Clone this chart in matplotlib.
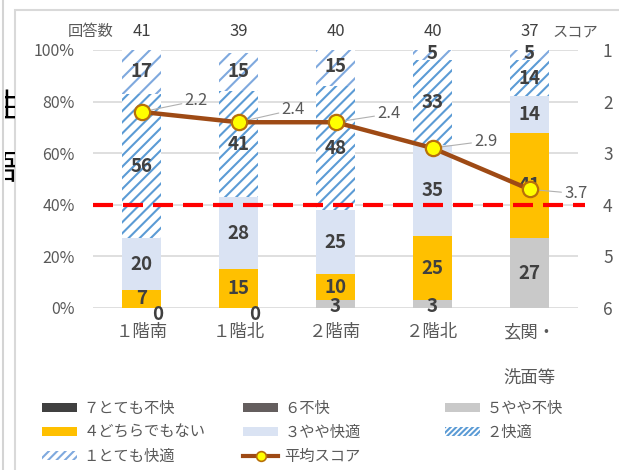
import matplotlib
matplotlib.use("Agg")
import matplotlib.pyplot as plt
import numpy as np
from matplotlib.patches import Patch, Rectangle
from matplotlib.lines import Line2D
from matplotlib.transforms import Bbox

plt.rcParams["font.family"] = ["Noto Sans CJK JP", "DejaVu Sans"]
plt.rcParams["hatch.linewidth"] = 1.5

# --- data (percent of answers per comfort level) ---
categories = ["１階南", "１階北", "２階南", "２階北", "玄関・\n洗面等"]
n_answers = [41, 39, 40, 40, 37]
very_uncomfortable = [0, 0, 0, 0, 0]      # 7
uncomfortable = [0, 0, 0, 0, 0]           # 6
slightly_uncomfortable = [0, 0, 3, 3, 27]  # 5
neutral = [7, 15, 10, 25, 41]             # 4
slightly_comfortable = [20, 28, 25, 35, 14]  # 3
comfortable = [56, 41, 48, 33, 14]        # 2
very_comfortable = [17, 15, 15, 5, 5]     # 1
avg_score = [2.2, 2.4, 2.4, 2.9, 3.7]
score_ticks = [1, 2, 3, 4, 5, 6]
pct_ticks = [0, 20, 40, 60, 80, 100]
threshold_pct = 40

W, H = 619, 470
TICK_GREY = "#595959"
LABEL_DARK = "#404040"
LINE_BROWN = "#9e4a15"
MARKER_EDGE = "#b8700a"

fig = plt.figure(figsize=(W / 100, H / 100), dpi=100)
ax = fig.add_axes([93 / W, 162 / H, 485 / W, 258 / H])

x = np.arange(len(categories))
width = 0.4

# (values, legend label, face colour, hatch, hatch colour)
segments = [
    (very_uncomfortable, "７とても不快", "#404040", None, None),
    (uncomfortable, "６不快", "#645e5e", None, None),
    (slightly_uncomfortable, "５やや不快", "#c9c9c9", None, None),
    (neutral, "４どちらでもない", "#ffc000", None, None),
    (slightly_comfortable, "３やや快適", "#dae3f3", None, None),
    (comfortable, "２快適", "white", "///", "#5b9bd5"),
    (very_comfortable, "１とても快適", "white", "//", "#7fa9de"),
]

handles = {}
bottom = np.zeros(len(categories))
for vals, label, color, hatch, hcolor in segments:
    vals = np.asarray(vals, dtype=float)
    if hatch:
        ax.bar(x, vals, width, bottom=bottom, facecolor="white",
               edgecolor=hcolor, hatch=hatch, linewidth=0, zorder=2)
        handles[label] = Patch(facecolor="white", edgecolor=hcolor,
                               hatch=hatch * 2, linewidth=0)
    else:
        ax.bar(x, vals, width, bottom=bottom, color=color, linewidth=0,
               zorder=2)
        handles[label] = Patch(facecolor=color, linewidth=0)
    bottom += vals

# --- data labels inside the segments ---
lbl_kw = dict(ha="center", va="center", fontsize=13.5, fontweight="bold",
              color=LABEL_DARK, zorder=5, clip_on=False)
base = np.zeros(len(categories))
for vals in [slightly_uncomfortable, neutral, slightly_comfortable,
             comfortable, very_comfortable]:
    for i, v in enumerate(vals):
        if v == 0:
            ax.text(x[i] + 0.17, -2.5, f"{v}", **lbl_kw)
        elif v < 5 and base[i] == 0:
            # thin bottom segment: label sits on the baseline
            ax.text(x[i], 0.5, f"{v}", **lbl_kw)
        else:
            ax.text(x[i], base[i] + v / 2, f"{v}", **lbl_kw)
    base += np.asarray(vals, dtype=float)

# --- 40 % threshold line ---
ax.plot([-0.5, 4.57], [threshold_pct, threshold_pct], color="#ff0000",
        lw=3, dashes=(4.8, 2.4), zorder=4, clip_on=False)

ax.set_xlim(-0.5, len(categories) - 0.5)
ax.set_ylim(0, 100)
ax.set_yticks(pct_ticks)
ax.set_yticklabels([f"{v}%" for v in pct_ticks])
ax.set_xticks(x)
ax.set_xticklabels(categories, linespacing=3.0, va="top")
ax.tick_params(axis="y", length=0, pad=13, labelsize=11.5,
               labelcolor=TICK_GREY)
ax.tick_params(axis="x", length=0, pad=11, labelsize=12.5,
               labelcolor=TICK_GREY)
ax.yaxis.grid(True, color="#d9d9d9", lw=1.2)
ax.set_axisbelow(True)
for s in ax.spines.values():
    s.set_visible(False)

# number of answers above each bar
for i, n in enumerate(n_answers):
    ax.text(x[i], 107, f"{n}", ha="center", va="center", fontsize=12,
            color=LABEL_DARK, clip_on=False)
ax.text(-0.52, 107, "回答数", ha="center", va="center", fontsize=11,
        color=TICK_GREY, clip_on=False)
ax.text(4.47, 107, "スコア", ha="center", va="center", fontsize=11,
        color=TICK_GREY, clip_on=False)

# --- average score on the secondary (inverted) axis ---
ax2 = ax.twinx()
ax2.set_ylim(score_ticks[-1], score_ticks[0])
ax2.set_yticks(score_ticks)
ax2.tick_params(axis="y", length=0, pad=18, labelsize=12.5,
                labelcolor=TICK_GREY)
for s in ax2.spines.values():
    s.set_visible(False)
ax2.plot(x, avg_score, color=LINE_BROWN, lw=3.2, marker="o", markersize=11,
         markerfacecolor="#ffff00", markeredgecolor=MARKER_EDGE,
         markeredgewidth=1.6, zorder=6)

label_offsets = [(31, 8), (31, 9), (30, 6), (30, 5), (25, -3)]
for i, (v, off) in enumerate(zip(avg_score, label_offsets)):
    ax2.annotate(f"{v:.1f}", (x[i], v), xytext=off, textcoords="offset points",
                 ha="left", va="center", fontsize=12, color=TICK_GREY,
                 arrowprops=dict(arrowstyle="-", color="#b0b0b0", lw=0.8,
                                 shrinkA=0, shrinkB=7))

handles["平均スコア"] = Line2D([], [], color=LINE_BROWN, lw=3, marker="o",
                            markersize=7, markerfacecolor="#ffff00",
                            markeredgecolor=MARKER_EDGE, markeredgewidth=1.2)

# --- legend, three columns placed separately ---
columns = [
    (["７とても不快", "４どちらでもない", "１とても快適"], 42),
    (["６不快", "３やや快適", "平均スコア"], 243),
    (["５やや不快", "２快適"], 445),
]
for names, left_px in columns:
    fig.legend([handles[n] for n in names], names, loc="upper left",
               bbox_to_anchor=(left_px / W, 1 - 400 / H), frameon=False,
               fontsize=11, labelcolor=TICK_GREY, handlelength=2.3,
               handleheight=0.6, handletextpad=0.4, labelspacing=0.45,
               borderpad=0, borderaxespad=0)

# --- chart frame and page edge ---
fig.add_artist(Rectangle((15 / W, -0.05), 1.1, (H - 10) / H + 0.05,
                         transform=fig.transFigure, fill=False,
                         edgecolor="#d9d9d9", lw=1.5))
fig.add_artist(Line2D([3 / W, 3 / W], [0, 1], transform=fig.transFigure,
                      color="#d4d4d4", lw=1.5))
strip = Bbox.from_extents(5, 0, 15, H)
for ch, y_px in [("性", 108), ("語", 170)]:
    t = fig.text(17 / W, 1 - y_px / H, ch, ha="right", va="center",
                 fontsize=24, color="black")
    t.set_clip_box(strip)
    t.set_clip_on(True)

fig.savefig("out.png", dpi=100)
